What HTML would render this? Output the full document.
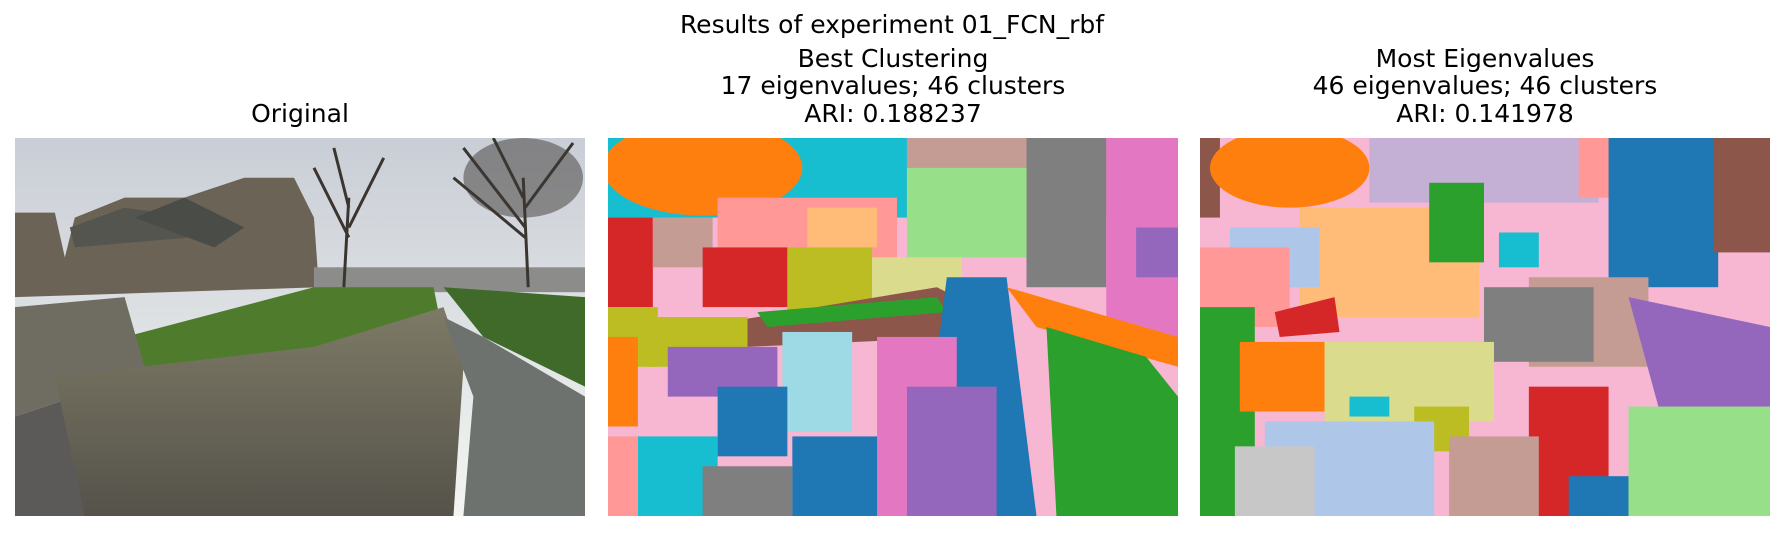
<!DOCTYPE html>
<html><head><meta charset="utf-8">
<style>
html,body{margin:0;padding:0;background:#fff;}
body{width:1785px;height:532px;overflow:hidden;font-family:"Liberation Sans","DejaVu Sans",sans-serif;}
svg text{font-family:"DejaVu Sans","Liberation Sans",sans-serif;fill:#000;}
</style></head>
<body>
<svg width="1785" height="532" viewBox="0 0 1785 532" xmlns="http://www.w3.org/2000/svg">
<defs>
<linearGradient id="sky" x1="0" y1="0" x2="0" y2="1"><stop offset="0" stop-color="#c9ced6"/><stop offset="1" stop-color="#f4f5f2"/></linearGradient>
<linearGradient id="wall" x1="0" y1="0" x2="0" y2="1"><stop offset="0" stop-color="#7d7a66"/><stop offset="1" stop-color="#55524a"/></linearGradient>
<clipPath id="c1"><rect x="0" y="0" width="572" height="380"/></clipPath>
</defs>
<text x="892" y="33" font-size="25" text-anchor="middle">Results of experiment 01_FCN_rbf</text>
<text x="300" y="122" font-size="25" text-anchor="middle">Original</text>
<g>
<text x="893" y="67" font-size="25" text-anchor="middle">Best Clustering</text>
<text x="893" y="94" font-size="25" text-anchor="middle">17 eigenvalues; 46 clusters</text>
<text x="893" y="122" font-size="25" text-anchor="middle">ARI: 0.188237</text>
</g>
<g>
<text x="1485" y="67" font-size="25" text-anchor="middle">Most Eigenvalues</text>
<text x="1485" y="94" font-size="25" text-anchor="middle">46 eigenvalues; 46 clusters</text>
<text x="1485" y="122" font-size="25" text-anchor="middle">ARI: 0.141978</text>
</g>

<g transform="translate(15,138) scale(0.9965,0.9947)">
<g clip-path="url(#c1)">
<rect width="572" height="380" fill="url(#sky)"/>
<polygon points="0,75 40,75 50,120 60,80 110,60 170,60 230,40 280,40 300,80 305,150 0,160" fill="#6b6355"/>
<polygon points="55,90 110,70 180,80 175,100 60,110" fill="#55554f"/>
<polygon points="120,80 170,60 230,90 200,110" fill="#4a4c48"/>
<rect x="300" y="130" width="272" height="25" fill="#8c8d8a"/>
<polygon points="110,200 300,150 420,150 430,200 300,220 130,230" fill="#4f7b2c"/>
<polygon points="430,150 572,160 572,250 470,200" fill="#3f6a2a"/>
<polygon points="0,170 110,160 130,230 60,260 0,280" fill="#6f6c62"/>
<polygon points="0,280 60,260 80,380 0,380" fill="#5b5a58"/>
<polygon points="40,240 300,210 430,170 450,230 440,380 70,380" fill="url(#wall)"/>
<polygon points="430,180 470,200 572,260 572,380 450,380 460,260" fill="#6d726e"/>
<g stroke="#3b3530" stroke-width="3" fill="none">
<path d="M330,150 L335,60 M335,100 L300,30 M335,90 L370,20 M335,70 L320,10"/>
<path d="M515,150 L510,40 M512,90 L450,10 M512,70 L560,5 M510,60 L480,0 M512,100 L440,40"/>
</g>
<ellipse cx="510" cy="40" rx="60" ry="40" fill="#3b3833" opacity="0.5"/>
</g>
</g>

<g transform="translate(608,138) scale(0.9965,0.9947)">
<g clip-path="url(#c1)">
<rect width="572" height="380" fill="#f7b6d2"/>
<rect x="0" y="0" width="300" height="80" fill="#17becf"/>
<rect x="300" y="0" width="272" height="80" fill="#c49c94"/>
<rect x="300" y="30" width="120" height="90" fill="#98df8a"/>
<rect x="420" y="0" width="80" height="150" fill="#7f7f7f"/>
<rect x="500" y="0" width="72" height="200" fill="#e377c2"/>
<rect x="530" y="90" width="42" height="50" fill="#9467bd"/>
<ellipse cx="95" cy="30" rx="100" ry="48" fill="#ff7f0e"/>
<rect x="110" y="60" width="180" height="60" fill="#ff9896"/>
<rect x="200" y="70" width="70" height="40" fill="#ffbb78"/>
<rect x="0" y="80" width="45" height="90" fill="#d62728"/>
<rect x="45" y="80" width="60" height="50" fill="#c49c94"/>
<rect x="95" y="110" width="85" height="60" fill="#d62728"/>
<rect x="180" y="110" width="85" height="70" fill="#bcbd22"/>
<rect x="265" y="120" width="90" height="50" fill="#dbdb8d"/>
<polygon points="120,185 330,150 380,175 360,200 140,210" fill="#8c564b"/>
<polygon points="150,175 330,160 340,175 160,190" fill="#2ca02c"/>
<polygon points="340,140 400,140 430,380 300,380 330,220" fill="#1f77b4"/>
<polygon points="400,150 572,200 572,230 430,190" fill="#ff7f0e"/>
<polygon points="440,190 540,220 572,260 572,380 450,380" fill="#2ca02c"/>
<rect x="0" y="170" width="50" height="60" fill="#bcbd22"/>
<rect x="0" y="200" width="30" height="90" fill="#ff7f0e"/>
<rect x="40" y="180" width="100" height="50" fill="#bcbd22"/>
<rect x="60" y="210" width="110" height="50" fill="#9467bd"/>
<rect x="175" y="195" width="70" height="100" fill="#9edae5"/>
<rect x="110" y="250" width="70" height="70" fill="#1f77b4"/>
<rect x="270" y="200" width="80" height="180" fill="#e377c2"/>
<rect x="300" y="250" width="90" height="130" fill="#9467bd"/>
<rect x="30" y="300" width="80" height="80" fill="#17becf"/>
<rect x="95" y="330" width="90" height="50" fill="#7f7f7f"/>
<rect x="0" y="300" width="30" height="80" fill="#ff9896"/>
<rect x="185" y="300" width="85" height="80" fill="#1f77b4"/>
</g>
</g>

<g transform="translate(1200,138) scale(0.9965,0.9947)">
<g clip-path="url(#c1)">
<rect width="572" height="380" fill="#f7b6d2"/>
<rect x="0" y="0" width="20" height="80" fill="#8c564b"/>
<ellipse cx="90" cy="30" rx="80" ry="40" fill="#ff7f0e"/>
<rect x="170" y="0" width="230" height="65" fill="#c5b0d5"/>
<rect x="380" y="0" width="45" height="60" fill="#ff9896"/>
<rect x="410" y="0" width="110" height="150" fill="#1f77b4"/>
<rect x="515" y="0" width="57" height="115" fill="#8c564b"/>
<rect x="100" y="70" width="180" height="110" fill="#ffbb78"/>
<rect x="230" y="45" width="55" height="80" fill="#2ca02c"/>
<rect x="300" y="95" width="40" height="35" fill="#17becf"/>
<rect x="30" y="90" width="90" height="60" fill="#aec7e8"/>
<rect x="0" y="110" width="90" height="80" fill="#ff9896"/>
<rect x="330" y="140" width="120" height="90" fill="#c49c94"/>
<rect x="285" y="150" width="110" height="75" fill="#7f7f7f"/>
<polygon points="75,175 135,160 140,195 80,200" fill="#d62728"/>
<polygon points="430,160 572,190 572,290 460,270" fill="#9467bd"/>
<rect x="0" y="170" width="55" height="210" fill="#2ca02c"/>
<rect x="40" y="205" width="85" height="70" fill="#ff7f0e"/>
<rect x="125" y="205" width="170" height="80" fill="#dbdb8d"/>
<rect x="215" y="270" width="55" height="45" fill="#bcbd22"/>
<rect x="330" y="250" width="80" height="130" fill="#d62728"/>
<rect x="430" y="270" width="142" height="110" fill="#98df8a"/>
<rect x="65" y="285" width="170" height="95" fill="#aec7e8"/>
<rect x="35" y="310" width="80" height="70" fill="#c7c7c7"/>
<rect x="250" y="300" width="90" height="80" fill="#c49c94"/>
<rect x="370" y="340" width="60" height="40" fill="#1f77b4"/>
<rect x="150" y="260" width="40" height="20" fill="#17becf"/>
</g>
</g>
</svg>
</body></html>
